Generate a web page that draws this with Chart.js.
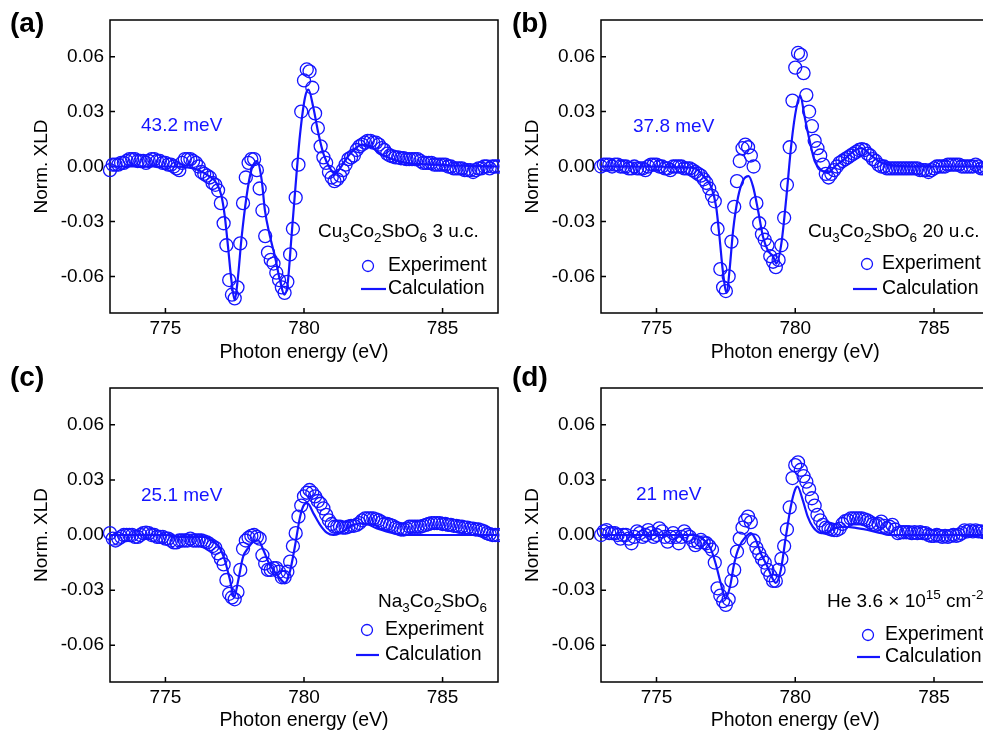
<!DOCTYPE html>
<html><head><meta charset="utf-8">
<script src="https://cdn.jsdelivr.net/npm/chart.js@4.4.1/dist/chart.umd.min.js"></script>
<style>
html,body{margin:0;padding:0;width:983px;height:740px;overflow:hidden;background:#fff;}
canvas{position:absolute;}
</style></head><body>
<canvas id="ca" width="500" height="370" style="left:0;top:0"></canvas>
<canvas id="cb" width="500" height="370" style="left:491px;top:0"></canvas>
<canvas id="cc" width="500" height="383" style="left:0;top:355px"></canvas>
<canvas id="cd" width="500" height="383" style="left:491px;top:355px"></canvas>
<script>
// ---- shared axes ----
const xTicks = [775, 780, 785];
const yTicks = [-0.06, -0.03, 0, 0.03, 0.06];

// ---- experiment energy grid (eV) ----
const energy = [
773.0,773.1,773.2,773.3,773.4,773.5,773.6,773.7,773.8,773.9,
774.0,774.1,774.2,774.3,774.4,774.5,774.6,774.7,774.8,774.9,
775.0,775.1,775.2,775.3,775.4,775.5,775.6,775.7,775.8,775.9,
776.0,776.1,776.2,776.3,776.4,776.5,776.6,776.7,776.8,776.9,
777.0,777.1,777.2,777.3,777.4,777.5,777.6,777.7,777.8,777.9,
778.0,778.1,778.2,778.3,778.4,778.5,778.6,778.7,778.8,778.9,
779.0,779.1,779.2,779.3,779.4,779.5,779.6,779.7,779.8,779.9,
780.0,780.1,780.2,780.3,780.4,780.5,780.6,780.7,780.8,780.9,
781.0,781.1,781.2,781.3,781.4,781.5,781.6,781.7,781.8,781.9,
782.0,782.1,782.2,782.3,782.4,782.5,782.6,782.7,782.8,782.9,
783.0,783.1,783.2,783.3,783.4,783.5,783.6,783.7,783.8,783.9,
784.0,784.1,784.2,784.3,784.4,784.5,784.6,784.7,784.8,784.9,
785.0,785.1,785.2,785.3,785.4,785.5,785.6,785.7,785.8,785.9,
786.0,786.1,786.2,786.3,786.4,786.5,786.6,786.7,786.8,786.9,
787.0];

// (a) Cu3Co2SbO6 3 u.c.
const expA = [
-0.002,0.001,0.001,0.001,0.002,0.002,0.003,0.004,0.004,0.004,
0.003,0.003,0.003,0.002,0.003,0.004,0.004,0.003,0.003,0.002,
0.002,0.001,0.001,0.000,-0.001,-0.002,0.002,0.004,0.004,0.004,
0.003,0.002,0.000,-0.003,-0.004,-0.005,-0.006,-0.009,-0.010,-0.013,
-0.020,-0.031,-0.043,-0.062,-0.070,-0.072,-0.066,-0.042,-0.020,-0.006,
0.002,0.004,0.004,-0.002,-0.012,-0.024,-0.038,-0.047,-0.051,-0.053,
-0.058,-0.062,-0.066,-0.069,-0.063,-0.048,-0.034,-0.017,0.001,0.030,
0.047,0.053,0.052,0.043,0.029,0.021,0.011,0.005,0.002,-0.003,
-0.006,-0.008,-0.007,-0.005,-0.002,0.001,0.004,0.005,0.006,0.009,
0.011,0.012,0.013,0.014,0.014,0.013,0.013,0.012,0.010,0.009,
0.007,0.006,0.0055,0.005,0.005,0.0045,0.0045,0.004,0.004,0.004,
0.004,0.004,0.003,0.002,0.002,0.002,0.002,0.001,0.001,0.001,
0.001,0.001,0.000,0.000,-0.001,-0.001,-0.001,-0.001,-0.002,-0.002,
-0.002,-0.003,-0.002,-0.001,-0.001,0.000,0.000,-0.001,0.000,0.000,
0.000];
const calcEA = [773.0,774.0,775.0,775.8,776.2,776.6,776.84,777.02,777.14,777.26,777.38,777.5,777.62,777.74,777.93,778.1,778.3,778.47,778.59,778.77,778.95,779.13,779.29,779.41,779.55,779.73,779.86,780.04,780.16,780.34,780.52,780.7,780.94,781.12,781.3,781.54,781.79,782.09,782.39,782.75,783.1,783.7,784.7,786.0,787.0];
const calcA = [0,0,0,-0.0005,-0.002,-0.0055,-0.009,-0.016,-0.027,-0.044,-0.062,-0.073,-0.060,-0.040,-0.016,-0.002,0.003,-0.007,-0.024,-0.038,-0.049,-0.062,-0.070,-0.064,-0.038,-0.004,0.018,0.038,0.042,0.032,0.018,0.007,-0.001,-0.004,-0.001,0.0045,0.009,0.012,0.011,0.007,0.0045,0.002,0.001,0.0003,0];

// (b) Cu3Co2SbO6 20 u.c.
const expB = [
0.000,0.001,0.001,0.001,0.000,0.001,0.001,0.000,0.000,0.000,
-0.001,-0.001,0.000,-0.001,-0.001,-0.001,-0.002,0.000,0.001,0.001,
0.001,0.000,0.000,-0.001,-0.001,-0.002,0.000,0.000,0.000,0.000,
-0.001,-0.001,-0.001,-0.002,-0.003,-0.004,-0.005,-0.007,-0.009,-0.012,
-0.016,-0.019,-0.034,-0.056,-0.066,-0.068,-0.060,-0.041,-0.022,-0.008,
0.003,0.010,0.012,0.0105,0.006,0.000,-0.020,-0.031,-0.037,-0.040,
-0.043,-0.049,-0.052,-0.055,-0.051,-0.043,-0.028,-0.010,0.0105,0.036,
0.054,0.062,0.061,0.051,0.039,0.030,0.022,0.014,0.010,0.006,
0.001,-0.004,-0.006,-0.004,-0.002,0.000,0.002,0.003,0.004,0.005,
0.006,0.007,0.008,0.009,0.0095,0.009,0.007,0.006,0.004,0.003,
0.001,0.000,0.000,-0.001,-0.001,-0.001,-0.001,-0.001,-0.001,-0.001,
-0.001,-0.001,-0.001,-0.001,-0.001,-0.002,-0.002,-0.002,-0.003,-0.002,
-0.001,0.000,0.000,0.000,0.000,0.001,0.001,0.001,0.001,0.001,
0.000,0.000,0.000,0.000,0.000,0.001,0.000,-0.001,-0.001,-0.001,
-0.001];
const calcEB = [773.0,775.0,776.0,776.4,776.73,776.97,777.15,777.27,777.39,777.53,777.63,777.76,777.94,778.12,778.32,778.48,778.66,778.84,779.02,779.2,779.32,779.5,779.68,779.86,780.04,780.18,780.34,780.52,780.7,780.94,781.18,781.42,781.78,782.14,782.38,782.74,783.1,783.58,785.0,787.0];
const calcB = [0,0,-0.0005,-0.001,-0.006,-0.011,-0.022,-0.0385,-0.057,-0.069,-0.057,-0.035,-0.0167,-0.0076,-0.0053,-0.011,-0.024,-0.0385,-0.046,-0.049,-0.053,-0.042,-0.0167,0.0124,0.032,0.0387,0.027,0.014,0.003,-0.002,-0.0036,0,0.004,0.0087,0.010,0.006,0.002,0.0005,0,0];

// (c) Na3Co2SbO6
const expC = [
0.001,-0.002,-0.003,-0.002,-0.001,0.000,0.000,0.000,0.000,-0.001,
-0.001,0.000,0.001,0.0013,0.001,0.000,0.000,-0.001,-0.001,-0.001,
-0.002,-0.002,-0.003,-0.004,-0.004,-0.003,-0.003,-0.003,-0.003,-0.002,
-0.003,-0.003,-0.003,-0.003,-0.0035,-0.004,-0.005,-0.006,-0.007,-0.010,
-0.013,-0.016,-0.0245,-0.032,-0.034,-0.035,-0.031,-0.019,-0.0075,-0.003,
-0.0015,-0.0005,0.000,-0.001,-0.002,-0.011,-0.0155,-0.019,-0.019,-0.018,
-0.018,-0.020,-0.023,-0.023,-0.020,-0.0145,-0.006,0.001,0.010,0.016,
0.021,0.023,0.0245,0.023,0.021,0.0185,0.017,0.0145,0.011,0.008,
0.006,0.0045,0.0045,0.0045,0.004,0.004,0.0045,0.005,0.005,0.0055,
0.0065,0.008,0.009,0.009,0.009,0.009,0.0085,0.008,0.007,0.006,
0.006,0.0055,0.005,0.004,0.0035,0.003,0.003,0.0035,0.0045,0.0045,
0.0045,0.0045,0.0045,0.005,0.0055,0.006,0.0065,0.0065,0.0065,0.0065,
0.006,0.006,0.0055,0.0055,0.005,0.005,0.0045,0.0045,0.004,0.004,
0.0035,0.0035,0.003,0.003,0.0025,0.002,0.001,0.0005,0.000,0.000,
0.000];
const calcEC = [773.0,775.0,775.5,776.4,776.72,776.96,777.14,777.33,777.48,777.63,777.8,777.99,778.17,778.35,778.53,778.71,778.89,779.13,779.31,779.49,779.67,779.86,780.0,780.12,780.34,780.58,780.82,781.06,781.3,781.78,782.14,782.63,783.23,783.7,787.0];
const calcC = [0,0,-0.001,-0.001,-0.0036,-0.007,-0.0136,-0.0245,-0.0336,-0.0245,-0.012,-0.007,-0.0036,-0.003,-0.008,-0.0145,-0.019,-0.0236,-0.026,-0.020,-0.0064,0.010,0.0164,0.0173,0.0118,0.0055,0.0013,0,0.001,0.0055,0.0064,0.0036,0.001,0,0];

// (d) He 3.6 x 10^15 cm^-2
const expD = [
0.000,0.002,0.0027,0.001,0.001,0.001,0.000,-0.002,0.000,0.000,
-0.002,-0.0045,-0.001,0.002,0.001,-0.001,0.000,0.0027,0.001,-0.001,
0.000,0.0036,0.002,-0.001,-0.0036,-0.001,0.001,-0.001,-0.0045,-0.001,
0.002,0.000,-0.001,-0.003,-0.0055,-0.004,-0.0027,-0.004,-0.0045,-0.006,
-0.008,-0.015,-0.029,-0.033,-0.036,-0.038,-0.035,-0.025,-0.019,-0.009,
-0.002,0.004,0.008,0.010,0.007,-0.003,-0.007,-0.010,-0.013,-0.015,
-0.019,-0.022,-0.025,-0.025,-0.019,-0.013,-0.006,0.003,0.015,0.031,
0.038,0.0395,0.0355,0.032,0.029,0.025,0.020,0.016,0.011,0.008,
0.0055,0.004,0.0035,0.003,0.0027,0.0027,0.0035,0.006,0.0075,0.008,
0.009,0.009,0.009,0.009,0.009,0.0085,0.008,0.007,0.006,0.0055,
0.006,0.0073,0.005,0.0036,0.0045,0.0055,0.003,0.001,0.0015,0.0015,
0.0015,0.0015,0.001,0.0015,0.001,0.0015,0.001,0.001,0.000,-0.0005,
-0.0005,0.000,-0.0005,-0.001,-0.0005,-0.001,-0.0005,0.000,-0.0005,0.000,
0.001,0.0025,0.002,0.0025,0.002,0.0025,0.002,0.002,0.0015,0.001,
0.001];
const calcED = [773.0,776.3,776.77,776.95,777.13,777.31,777.43,777.49,777.65,777.8,777.98,778.22,778.4,778.58,778.76,779.0,779.18,779.3,779.48,779.66,779.84,779.99,780.08,780.27,780.45,780.63,780.87,781.05,781.41,781.77,782.13,782.61,783.1,783.46,787.0];
const calcD = [0,0,-0.0036,-0.0073,-0.0155,-0.026,-0.0327,-0.0345,-0.028,-0.0155,-0.0064,-0.001,0.001,-0.0027,-0.010,-0.0173,-0.0236,-0.026,-0.019,-0.001,0.0155,0.0245,0.0264,0.019,0.010,0.0045,0.0013,0.001,0.0036,0.0045,0.004,0.0027,0.001,0,0];

// ---- drawing ----
const FONT = 'Arial, "Liberation Sans", Helvetica, sans-serif';
const BLUE = '#1414ff';
Chart.defaults.font.family = FONT;
Chart.defaults.font.size = 19;
Chart.defaults.color = '#000';

function rich(ctx, segs, x, y, size) {
  let cx = x;
  segs.forEach(([t, k]) => {
    const fs = k ? 13.5 : size;
    ctx.font = fs + 'px ' + FONT;
    const dy = k === 'sub' ? 6 : (k === 'sup' ? -7 : 0);
    ctx.fillText(t, cx, y + dy);
    cx += ctx.measureText(t).width;
  });
}

const deco = {
  id: 'deco',
  beforeDatasetsDraw(chart) {
    const ctx = chart.ctx, a = chart.chartArea;
    const xs = chart.scales.x, ys = chart.scales.y;
    ctx.save();
    ctx.strokeStyle = '#000'; ctx.lineWidth = 1.5;
    ctx.strokeRect(a.left, a.top, a.right - a.left, a.bottom - a.top);
    ctx.beginPath();
    xTicks.forEach(v => { const p = xs.getPixelForValue(v); ctx.moveTo(p, a.bottom); ctx.lineTo(p, a.bottom - 5); });
    yTicks.forEach(v => { const p = ys.getPixelForValue(v); ctx.moveTo(a.left, p); ctx.lineTo(a.left + 5, p); });
    ctx.stroke();
    ctx.restore();
  },
  afterDatasetsDraw(chart, args, o) {
    const ctx = chart.ctx, a = chart.chartArea;
    ctx.save();
    ctx.textBaseline = 'middle'; ctx.textAlign = 'left';
    // panel letter
    ctx.fillStyle = '#000';
    ctx.font = 'bold 28px ' + FONT;
    ctx.fillText(o.letter, o.letterX, o.letterY);
    // width annotation
    ctx.fillStyle = BLUE;
    ctx.font = '19px ' + FONT;
    ctx.fillText(o.note, a.left + o.noteX, a.top + o.noteY);
    // sample label
    ctx.fillStyle = '#000';
    rich(ctx, o.sample, a.left + o.sampleX, a.top + o.sampleY, 19);
    // legend
    const L = o.leg;
    ctx.strokeStyle = BLUE; ctx.lineWidth = 1.3;
    ctx.beginPath(); ctx.arc(a.left + L.cx, a.top + L.cy, 5.5, 0, Math.PI * 2); ctx.stroke();
    ctx.lineWidth = 2.2;
    ctx.beginPath(); ctx.moveTo(a.left + L.lx0, a.top + L.ly); ctx.lineTo(a.left + L.lx1, a.top + L.ly); ctx.stroke();
    ctx.fillStyle = '#000'; ctx.font = '19.5px ' + FONT;
    ctx.fillText('Experiment', a.left + L.tx, a.top + L.cy);
    ctx.fillText('Calculation', a.left + L.tx, a.top + L.ly);
    ctx.restore();
  }
};

function zip(xs, ys) { return xs.map((x, i) => ({x: x, y: ys[i]})); }

function makePanel(id, exp, cE, cV, padTop, padRight, xH, deco_opts) {
  new Chart(document.getElementById(id), {
    type: 'line',
    data: {
      datasets: [
        { label: 'Experiment', data: zip(energy, exp), showLine: false, pointStyle: 'circle',
          pointRadius: 6.5, pointBorderWidth: 1.3, pointBorderColor: BLUE,
          pointBackgroundColor: 'rgba(0,0,0,0)', borderColor: BLUE, clip: false },
        { label: 'Calculation', data: zip(cE, cV), pointRadius: 0, borderColor: BLUE,
          borderWidth: 2.2, cubicInterpolationMode: 'monotone', fill: false }
      ]
    },
    options: {
      responsive: false, animation: false, devicePixelRatio: 1,
      layout: { autoPadding: false, padding: { top: padTop, right: padRight, left: 0, bottom: 0 } },
      plugins: { legend: { display: false }, tooltip: { enabled: false }, deco: deco_opts },
      scales: {
        x: { type: 'linear', min: 773, max: 787,
          grid: { display: false, drawTicks: false }, border: { display: false },
          afterBuildTicks: s => { s.ticks = xTicks.map(v => ({value: v})); },
          afterFit: s => { s.height = xH; },
          ticks: { padding: 4, font: { size: 19 }, color: '#000', maxRotation: 0, callback: v => String(v) },
          title: { display: true, text: 'Photon energy (eV)', font: { size: 19.5 }, color: '#000', padding: { top: 0, bottom: 5.6 } } },
        y: { type: 'linear', min: -0.08, max: 0.08,
          grid: { display: false, drawTicks: false }, border: { display: false },
          afterBuildTicks: s => { s.ticks = yTicks.map(v => ({value: v})); },
          afterFit: s => { s.width = 110; },
          ticks: { padding: 6, font: { size: 19 }, color: '#000', callback: v => Number(v).toFixed(2) },
          title: { display: true, text: 'Norm. XLD', font: { size: 19 }, color: '#000', padding: { top: 30.6, bottom: 0 } } }
      }
    },
    plugins: [deco]
  });
}

makePanel('ca', expA, calcEA, calcA, 20, 2, 57, {
  letter: '(a)', letterX: 10, letterY: 24,
  note: '43.2 meV', noteX: 31, noteY: 106,
  sample: [['Cu'], ['3', 'sub'], ['Co'], ['2', 'sub'], ['SbO'], ['6', 'sub'], [' 3 u.c.']], sampleX: 208, sampleY: 212,
  leg: { cx: 258, cy: 246, tx: 278, lx0: 251, lx1: 276, ly: 269 }
});
makePanel('cb', expB, calcEB, calcB, 20, 1.5, 57, {
  letter: '(b)', letterX: 21, letterY: 24,
  note: '37.8 meV', noteX: 32, noteY: 107,
  sample: [['Cu'], ['3', 'sub'], ['Co'], ['2', 'sub'], ['SbO'], ['6', 'sub'], [' 20 u.c.']], sampleX: 207, sampleY: 212,
  leg: { cx: 266, cy: 244, tx: 281, lx0: 252, lx1: 276, ly: 269 }
});
makePanel('cc', expC, calcEC, calcC, 33, 2, 56, {
  letter: '(c)', letterX: 10, letterY: 23,
  note: '25.1 meV', noteX: 31, noteY: 108,
  sample: [['Na'], ['3', 'sub'], ['Co'], ['2', 'sub'], ['SbO'], ['6', 'sub']], sampleX: 268, sampleY: 214,
  leg: { cx: 257, cy: 242, tx: 275, lx0: 246, lx1: 269, ly: 267 }
});
makePanel('cd', expD, calcED, calcD, 33, 1.5, 56, {
  letter: '(d)', letterX: 21, letterY: 23,
  note: '21 meV', noteX: 35, noteY: 107,
  sample: [['He 3.6 \u00d7 10'], ['15', 'sup'], [' cm'], ['-2', 'sup']], sampleX: 226, sampleY: 214,
  leg: { cx: 267, cy: 247, tx: 284, lx0: 256, lx1: 279, ly: 269 }
});
</script>
</body></html>
